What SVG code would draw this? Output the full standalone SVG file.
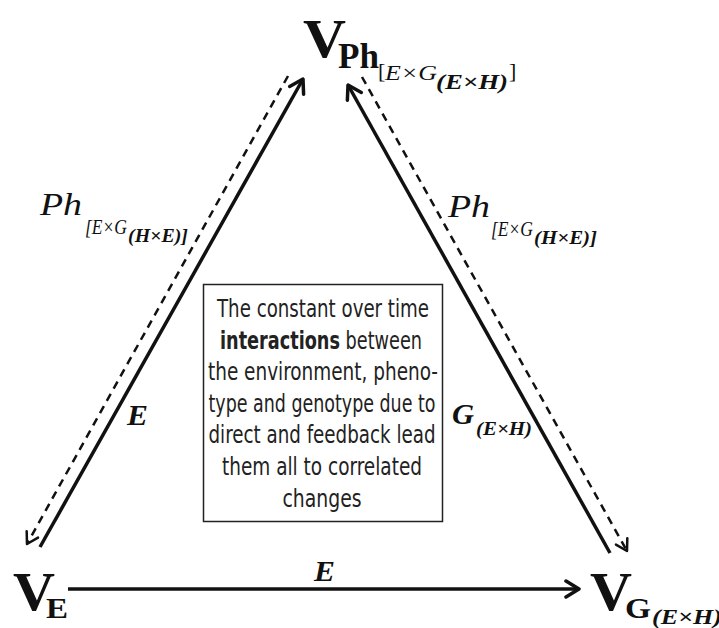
<svg xmlns="http://www.w3.org/2000/svg" width="719" height="628" viewBox="0 0 719 628">
<defs>
<style>
.serif{font-family:"Liberation Serif",Tinos,"Times New Roman",Times,"DejaVu Serif",serif;fill:#111}
.b{font-weight:bold}
.i{font-style:italic}
.box{font-family:"Liberation Sans Narrow","DejaVu Sans Condensed","Liberation Sans",sans-serif;font-size:24px;fill:#222;text-anchor:middle}
.solid{stroke:#111;stroke-width:3.5;fill:none}
.dash{stroke:#111;stroke-width:2.5;fill:none;stroke-dasharray:8 6}
</style>
<marker id="ah" viewBox="-16 -10 18 20" markerWidth="18" markerHeight="20" refX="0" refY="0" orient="auto" markerUnits="userSpaceOnUse">
<path d="M-13,-8 L0,0 L-13,8" fill="none" stroke="#111" stroke-width="3.5" stroke-linecap="round" stroke-linejoin="round"/>
</marker>
<marker id="ahd" viewBox="-14 -9 16 18" markerWidth="16" markerHeight="18" refX="0" refY="0" orient="auto" markerUnits="userSpaceOnUse">
<path d="M-11,-6.5 L0,0 L-11,6.5" fill="none" stroke="#111" stroke-width="2.5" stroke-linecap="round" stroke-linejoin="round"/>
</marker>
</defs>
<rect width="719" height="628" fill="#fff"/>
<g id="connectors">
<line class="solid" x1="40" y1="547" x2="303" y2="79" marker-end="url(#ah)"/>
<line class="dash" x1="288" y1="76" x2="27" y2="544" marker-end="url(#ahd)"/>
<line class="solid" x1="610" y1="553" x2="348" y2="85" marker-end="url(#ah)"/>
<line class="dash" x1="362" y1="77" x2="627" y2="551" marker-end="url(#ahd)"/>
<line class="solid" x1="68" y1="589" x2="579" y2="589" marker-end="url(#ah)"/>
<text class="serif i" x="40" y="215" font-size="31" textLength="42" lengthAdjust="spacingAndGlyphs">Ph</text>
<text class="serif i" x="85" y="234" font-size="21" textLength="42" lengthAdjust="spacingAndGlyphs">[E×G</text>
<text class="serif b i" x="128" y="242" font-size="19" textLength="60" lengthAdjust="spacingAndGlyphs">(H×E)]</text>
<text class="serif i" x="448" y="217" font-size="31" textLength="42" lengthAdjust="spacingAndGlyphs">Ph</text>
<text class="serif i" x="491" y="236" font-size="21" textLength="42" lengthAdjust="spacingAndGlyphs">[E×G</text>
<text class="serif b i" x="534" y="244" font-size="19" textLength="63" lengthAdjust="spacingAndGlyphs">(H×E)]</text>
<text class="serif b i" x="127" y="425" font-size="30" textLength="21" lengthAdjust="spacingAndGlyphs">E</text>
<text class="serif b i" x="452" y="424" font-size="30" textLength="22" lengthAdjust="spacingAndGlyphs">G</text>
<text class="serif b i" x="476" y="435" font-size="19" textLength="56" lengthAdjust="spacingAndGlyphs">(E×H)</text>
<text class="serif b i" x="314" y="581" font-size="30" textLength="21" lengthAdjust="spacingAndGlyphs">E</text>
</g>
<g id="node-vph">
<text class="serif b" x="303" y="57" font-size="55" textLength="43" lengthAdjust="spacingAndGlyphs">V</text>
<text class="serif b" x="338" y="68" font-size="36" textLength="41" lengthAdjust="spacingAndGlyphs">Ph</text>
<text class="serif" x="378" y="78" font-size="22">[</text>
<text class="serif i" x="385" y="80" font-size="22" textLength="52" lengthAdjust="spacingAndGlyphs">E×G</text>
<text class="serif b i" x="436" y="89" font-size="21" textLength="72" lengthAdjust="spacingAndGlyphs">(E×H)</text>
<text class="serif" x="509" y="78" font-size="22">]</text>
</g>
<g id="node-ve">
<text class="serif b" x="13" y="610" font-size="55" textLength="42" lengthAdjust="spacingAndGlyphs">V</text>
<text class="serif b" x="46" y="618" font-size="29" textLength="22" lengthAdjust="spacingAndGlyphs">E</text>
</g>
<g id="node-vg">
<text class="serif b" x="590" y="610" font-size="55" textLength="42" lengthAdjust="spacingAndGlyphs">V</text>
<text class="serif b" x="625" y="618" font-size="29" textLength="26" lengthAdjust="spacingAndGlyphs">G</text>
<text class="serif b i" x="652" y="624" font-size="21" textLength="70" lengthAdjust="spacingAndGlyphs">(E×H)</text>
</g>
<g id="node-box">
<rect x="203.5" y="284.5" width="239" height="237" fill="#fff" stroke="#222" stroke-width="1.5"/>
<text class="box" x="323" y="317" textLength="212" lengthAdjust="spacingAndGlyphs">The constant over time</text>
<text class="box" x="321" y="349" textLength="202" lengthAdjust="spacingAndGlyphs"><tspan font-weight="bold">interactions</tspan> between</text>
<text class="box" x="323" y="380" textLength="230" lengthAdjust="spacingAndGlyphs">the environment, pheno-</text>
<text class="box" x="322" y="412" textLength="227" lengthAdjust="spacingAndGlyphs">type and genotype due to</text>
<text class="box" x="322" y="443" textLength="227" lengthAdjust="spacingAndGlyphs">direct and feedback lead</text>
<text class="box" x="322" y="475" textLength="200" lengthAdjust="spacingAndGlyphs">them all to correlated</text>
<text class="box" x="322" y="507" textLength="79" lengthAdjust="spacingAndGlyphs">changes</text>
</g>
</svg>
